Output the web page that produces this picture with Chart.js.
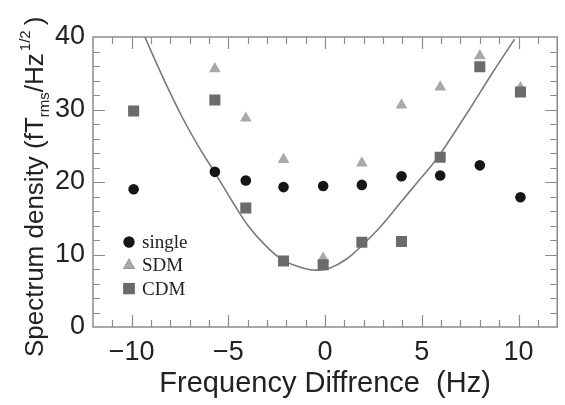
<!DOCTYPE html>
<html>
<head>
<meta charset="utf-8">
<script src="https://cdn.jsdelivr.net/npm/chart.js@4"></script>
<style>
  html, body { margin: 0; padding: 0; background: #fff; }
  #wrap { width: 565px; height: 405px; }
</style>
</head>
<body>
<div id="wrap"><canvas id="chart" width="565" height="405"></canvas></div>
<script>
// values
const freqs = [-9.9, -5.7, -4.1, -2.15, -0.1, 1.9, 3.95, 5.95, 8.0, 10.1];
const single = [19.0, 21.4, 20.2, 19.3, 19.45, 19.6, 20.8, 20.9, 22.3, 17.9];
const sdm = [null, 35.6, 28.8, 23.1, 9.5, 22.6, 30.6, 33.1, 37.4, 33.0];
const cdm = [29.8, 31.3, 16.4, 9.1, 8.6, 11.7, 11.8, 23.4, 35.9, 32.4];

// fitted curve
const fitX = [-9.32, -8.4, -7.4, -6.5, -5.7, -4.7, -3.96, -3.1, -2.17, -1.06, -0.5, 0.2, 1.15, 2.0, 2.85, 3.87, 4.72, 5.32, 5.91, 7.45, 8.64, 9.8];
const fitY = [40, 34.5, 29.0, 24.7, 21.3, 16.9, 13.9, 11.3, 9.22, 8.07, 7.84, 8.07, 9.45, 11.5, 13.8, 17.06, 19.8, 21.7, 23.7, 29.96, 35.0, 39.7];

const xTicks = [-10, -5, 0, 5, 10];
const yTicks = [0, 10, 20, 30, 40];

function pts(xs, ys) {
    return xs.map((x, i) => ({ x: x, y: ys[i] })).filter(p => p.y !== null);
}

const tickColor = '#8c8c8c';

// frame + inward ticks on all four sides
const framePlugin = {
    id: 'frame',
    afterDraw(chart) {
        const ctx = chart.ctx;
        const a = chart.chartArea;
        const xs = chart.scales.x, ys = chart.scales.y;
        ctx.save();
        ctx.strokeStyle = tickColor;
        ctx.lineWidth = 1.2;
        ctx.beginPath();
        for (let v = -11; v <= 11; v++) {
            const px = Math.round(xs.getPixelForValue(v)) + 0.5;
            const len = v % 5 === 0 ? 12 : 7;
            ctx.moveTo(px, a.bottom); ctx.lineTo(px, a.bottom - len);
            ctx.moveTo(px, a.top); ctx.lineTo(px, a.top + len);
        }
        for (let v = 2; v < 40; v += 2) {
            const py = Math.round(ys.getPixelForValue(v)) + 0.5;
            const len = v % 10 === 0 ? 12 : 7;
            ctx.moveTo(a.left, py); ctx.lineTo(a.left + len, py);
            ctx.moveTo(a.right, py); ctx.lineTo(a.right - len, py);
        }
        ctx.stroke();
        ctx.lineWidth = 1.5;
        ctx.strokeRect(a.left, a.top, a.right - a.left, a.bottom - a.top);
        ctx.restore();
    }
};

// legend inside the plot, lower left
const legendPlugin = {
    id: 'insideLegend',
    afterDraw(chart) {
        const ctx = chart.ctx;
        const a = chart.chartArea;
        const items = chart.data.datasets.filter(d => d.legendRow !== undefined);
        ctx.save();
        ctx.font = '19px "Liberation Serif", "Times New Roman", serif';
        ctx.textBaseline = 'middle';
        items.forEach(d => {
            const x = a.left + 36;
            const y = a.bottom - 85 + d.legendRow * 23.3;
            Chart.helpers.drawPoint(ctx, {
                pointStyle: d.pointStyle,
                radius: d.legendRadius,
                rotation: 0,
                borderWidth: 0
            }, x, y);
            ctx.fillStyle = d.backgroundColor;
            ctx.fill();
            ctx.fillStyle = '#222';
            ctx.fillText(d.label, x + 13, y + 1);
        });
        ctx.restore();
    }
};

// y title with subscript and superscript
const yTitlePlugin = {
    id: 'yTitle',
    afterDraw(chart) {
        const ctx = chart.ctx;
        const big = '26px "Liberation Sans", Arial, sans-serif';
        const small = '15px "Liberation Sans", Arial, sans-serif';
        const parts = [
            { t: 'Spectrum density (fT', f: big, dy: 0 },
            { t: 'rms', f: small, dy: 6 },
            { t: '/Hz', f: big, dy: 0 },
            { t: '1/2', f: small, dy: -13, gap: 2 },
            { t: ')', f: big, dy: 0, gap: 5 }
        ];
        ctx.save();
        ctx.translate(43, 357);
        ctx.rotate(-Math.PI / 2);
        ctx.fillStyle = '#222';
        ctx.textBaseline = 'alphabetic';
        let x = 0;
        parts.forEach(p => {
            x += p.gap || 0;
            ctx.font = p.f;
            ctx.fillText(p.t, x, p.dy);
            x += ctx.measureText(p.t).width;
        });
        ctx.restore();
    }
};

new Chart(document.getElementById('chart'), {
    type: 'scatter',
    data: {
        datasets: [
            {
                label: 'single',
                data: pts(freqs, single),
                pointStyle: 'circle',
                pointRadius: 5.3,
                backgroundColor: '#161616',
                borderWidth: 0,
                order: 1,
                legendRow: 0,
                legendRadius: 5.5
            },
            {
                label: 'SDM',
                data: pts(freqs, sdm),
                pointStyle: 'triangle',
                pointRadius: 6.8,
                backgroundColor: '#a9a9a9',
                borderWidth: 0,
                order: 3,
                legendRow: 1,
                legendRadius: 6.8
            },
            {
                label: 'CDM',
                data: pts(freqs, cdm),
                pointStyle: 'rect',
                pointRadius: 7.8,
                backgroundColor: '#6b6b6b',
                borderWidth: 0,
                order: 2,
                legendRow: 2,
                legendRadius: 7.8
            },
            {
                label: 'fit',
                data: pts(fitX, fitY),
                showLine: true,
                pointRadius: 0,
                borderColor: '#7a7a7a',
                borderWidth: 1.6,
                tension: 0.4,
                order: 10
            }
        ]
    },
    options: {
        responsive: false,
        animation: false,
        layout: { padding: { top: 37, right: 3, left: 0, bottom: 0 } },
        plugins: {
            legend: { display: false },
            tooltip: { enabled: false }
        },
        scales: {
            x: {
                type: 'linear',
                min: -12,
                max: 12,
                grid: { display: false, drawTicks: false },
                border: { display: false },
                afterBuildTicks: s => { s.ticks = xTicks.map(v => ({ value: v })); },
                afterFit: s => { s.height = 78; },
                ticks: {
                    padding: 9,
                    color: '#222',
                    font: { family: '"Liberation Sans", Arial, sans-serif', size: 27 },
                    callback: v => String(v).replace('-', '\u2212')
                },
                title: {
                    display: true,
                    text: 'Frequency Diffrence  (Hz)',
                    color: '#222',
                    font: { family: '"Liberation Sans", Arial, sans-serif', size: 29 },
                    padding: { top: 0, bottom: 4 }
                }
            },
            y: {
                min: 0,
                max: 40,
                grid: { display: false, drawTicks: false },
                border: { display: false },
                afterBuildTicks: s => { s.ticks = yTicks.map(v => ({ value: v })); },
                afterFit: s => { s.width = 93; },
                ticks: {
                    padding: 8,
                    color: '#222',
                    font: { family: '"Liberation Sans", Arial, sans-serif', size: 27 }
                }
            }
        }
    },
    plugins: [framePlugin, legendPlugin, yTitlePlugin]
});
</script>
</body>
</html>
